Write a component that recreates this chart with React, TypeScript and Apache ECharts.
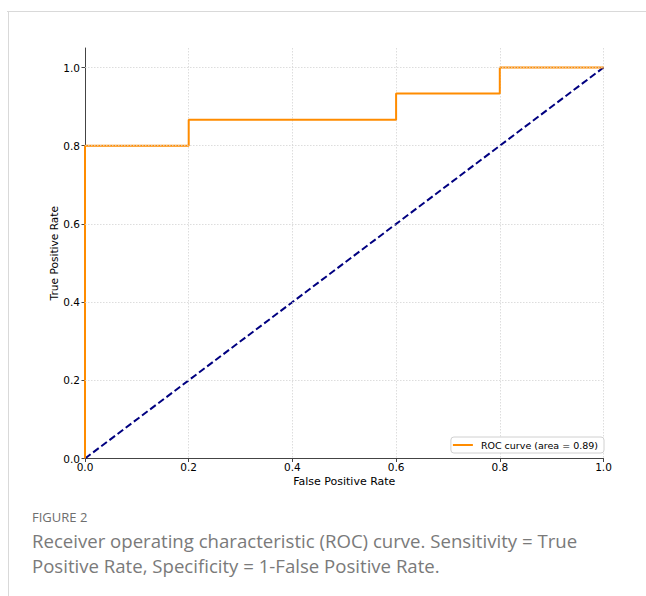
import React, { useEffect, useRef } from "react";
import * as echarts from "echarts";

const fpr = [0, 0, 0.2, 0.2, 0.6, 0.6, 0.8, 0.8, 1.0];
const tpr = [0, 0.8, 0.8, 0.8667, 0.8667, 0.9333, 0.9333, 1.0, 1.0];
const chanceX = [0, 1];
const chanceY = [0, 1];
const tickValues = [0, 0.2, 0.4, 0.6, 0.8, 1.0];
const rocName = "ROC curve (area = 0.89)";
const figureLabel = "FIGURE 2";
const captionLines = [
  "Receiver operating characteristic (ROC) curve. Sensitivity = True",
  "Positive Rate, Specificity = 1-False Positive Rate.",
];

const FONT = "DejaVu Sans";

export default function App() {
  const ref = useRef<HTMLDivElement>(null);
  useEffect(() => {
    if (!ref.current) return;
    const chart = echarts.init(ref.current, null, { renderer: "svg" });
    const gridLineStyle = { color: "#d4d4d4", width: 0.8, type: [1.5, 1.5] };
    chart.setOption({
      animation: false,
      backgroundColor: "#fff",
      grid: { left: 85, top: 48, right: 42.5, bottom: 137.5, containLabel: false },
      xAxis: {
        type: "value",
        min: 0,
        max: 1,
        interval: 0.2,
        name: "False Positive Rate",
        nameLocation: "middle",
        nameGap: 17,
        nameMoveOverlap: false,
        nameTextStyle: { fontFamily: FONT, fontSize: 11, color: "#000" },
        axisLine: { show: true, onZero: false, lineStyle: { color: "#444", width: 1 } },
        axisTick: { show: true, length: 3.5, lineStyle: { color: "#444" } },
        axisLabel: {
          fontFamily: FONT,
          fontSize: 10.5,
          color: "#000",
          margin: 3,
          formatter: (v: number) => v.toFixed(1),
        },
        splitLine: { show: true, lineStyle: gridLineStyle },
      },
      yAxis: {
        type: "value",
        min: 0,
        max: 1.05,
        name: "True Positive Rate",
        nameLocation: "middle",
        nameGap: 26,
        nameMoveOverlap: false,
        nameTextStyle: { fontFamily: FONT, fontSize: 10.6, color: "#000" },
        axisLine: { show: true, onZero: false, lineStyle: { color: "#444", width: 1 } },
        axisTick: { show: true, length: 3.5, customValues: tickValues, lineStyle: { color: "#444" } },
        axisLabel: {
          fontFamily: FONT,
          fontSize: 10.5,
          color: "#000",
          margin: 5,
          customValues: tickValues,
          formatter: (v: number) => v.toFixed(1),
        },
        splitLine: { show: false },
      },
      legend: {
        data: [{ name: rocName, icon: "rect" }],
        right: 42,
        top: 437,
        orient: "vertical",
        padding: [3, 6, 3, 2],
        itemWidth: 20,
        itemHeight: 2,
        itemGap: 4,
        borderColor: "#d0d0d0",
        borderWidth: 1,
        borderRadius: 3,
        backgroundColor: "#fff",
        textStyle: { fontFamily: FONT, fontSize: 9.5, color: "#000", padding: [0, 0, 0, 3] },
      },
      series: [
        {
          name: "grid",
          type: "line",
          data: [],
          silent: true,
          markLine: {
            silent: true,
            symbol: "none",
            label: { show: false },
            lineStyle: gridLineStyle,
            data: tickValues.filter((v) => v > 0).map((v) => ({ yAxis: v })),
          },
        },
        {
          name: "chance",
          type: "line",
          data: chanceX.map((x, i) => [x, chanceY[i]]),
          symbol: "none",
          clip: false,
          lineStyle: { color: "#000080", width: 2, type: [7, 3.2] },
          z: 3,
        },
        {
          name: rocName,
          type: "line",
          data: fpr.map((x, i) => [x, tpr[i]]),
          symbol: "none",
          clip: false,
          color: "#ff8c00",
          lineStyle: { color: "#ff8c00", width: 2 },
          z: 4,
        },
      ],
      graphic: [
        {
          type: "line",
          shape: { x1: 7, y1: 11.5, x2: 646, y2: 11.5 },
          style: { stroke: "#d9d9d9", lineWidth: 1 },
        },
        {
          type: "line",
          shape: { x1: 8.5, y1: 11, x2: 8.5, y2: 596 },
          style: { stroke: "#d9d9d9", lineWidth: 1 },
        },
        {
          type: "text",
          left: 32,
          top: 510,
          style: { text: figureLabel, fontFamily: "Open Sans", fontSize: 13, fill: "#6e6e6e" },
        },
        {
          type: "text",
          left: 32,
          top: 528,
          style: {
            text: captionLines.join("\n"),
            fontFamily: "Open Sans",
            fontSize: 18.6,
            lineHeight: 25,
            fill: "#7a7a7a",
          },
        },
      ],
    });
    return () => chart.dispose();
  }, []);
  return (
    <div
      ref={ref}
      style={{ position: "fixed", left: 0, top: 0, width: 646, height: 596 }}
    />
  );
}
